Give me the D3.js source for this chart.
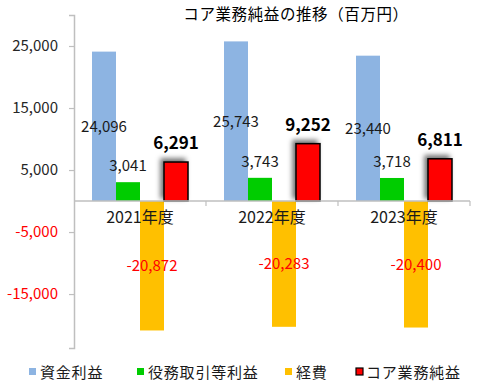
<!DOCTYPE html>
<html>
<head>
<meta charset="utf-8">
<script src="https://cdn.jsdelivr.net/npm/d3@7"></script>
<style>
  body { margin: 0; background: #fff; }
  svg { display: block; font-family: "Noto Sans CJK JP", "Noto Sans", sans-serif; }
</style>
</head>
<body>
<div id="chart"></div>
<script>
// ── Data ───────────────────────────────────────────────────────────────────────
const years = ["2021年度", "2022年度", "2023年度"];
const seriesNames = ["資金利益", "役務取引等利益", "経費", "コア業務純益"];
const seriesColors = ["#8DB4E2", "#00CC00", "#FFC000", "#FF0000"];
const shikinRieki = [24096, 25743, 23440];
const ekimuRieki = [3041, 3743, 3718];
const keihi = [-20872, -20283, -20400];
const coreJunEki = [6291, 9252, 6811];
const yTicks = [25000, 15000, 5000, -5000, -15000];

const seriesValues = [shikinRieki, ekimuRieki, keihi, coreJunEki];

// plain hyphen for negatives, like the original
const fmt = v => d3.format(",")(v).replace("\u2212", "-");

// ── Layout ─────────────────────────────────────────────────────────────────────
const W = 479, H = 385;
const plot = { left: 74, right: 470, top: 15, bottom: 348 };

const svg = d3.select("#chart").append("svg")
    .attr("width", W).attr("height", H)
    .attr("viewBox", `0 0 ${W} ${H}`);

const defs = svg.append("defs");
const shadow = defs.append("filter").attr("id", "shadow")
    .attr("x", "-60%").attr("y", "-60%").attr("width", "220%").attr("height", "220%");
shadow.append("feDropShadow")
    .attr("dx", -3).attr("dy", -3).attr("stdDeviation", 2.5)
    .attr("flood-color", "#000").attr("flood-opacity", 0.55);

const x = d3.scaleBand().domain(years).range([plot.left, plot.right]).padding(0);
const xInner = d3.scaleBand().domain(d3.range(seriesNames.length))
    .range([0, x.bandwidth()]).paddingOuter(0.75).paddingInner(0);
const y = d3.scaleLinear().domain([-23700, 30000]).range([plot.bottom, plot.top]);

// title
svg.append("text")
    .attr("x", 296).attr("y", 20)
    .attr("text-anchor", "middle")
    .attr("font-size", 15.5).attr("letter-spacing", 0.6)
    .attr("fill", "#000")
    .text("コア業務純益の推移（百万円）");

// y axis
const yAxis = svg.append("g")
    .attr("transform", `translate(${plot.left},0)`)
    .call(d3.axisLeft(y).tickValues(yTicks).tickSize(5).tickPadding(11)
        .tickFormat(fmt));
yAxis.select(".domain").attr("stroke", "#bfbfbf").attr("stroke-width", 1.5);
yAxis.selectAll(".tick line").attr("stroke", "#bfbfbf").attr("stroke-width", 1.2);
yAxis.selectAll(".tick text")
    .attr("font-size", 15)
    .attr("font-family", "\"Noto Sans CJK JP\", sans-serif")
    .attr("fill", d => d < 0 ? "#FF0000" : "#262626");

// bars
const groups = svg.append("g").selectAll("g")
    .data(years).join("g")
    .attr("transform", d => `translate(${x(d)},0)`);

seriesNames.forEach((name, s) => {
    const isCore = s === 3;
    groups.append("rect")
        .attr("x", xInner(s))
        .attr("width", xInner.bandwidth())
        .attr("y", (d, i) => y(Math.max(0, seriesValues[s][i])))
        .attr("height", (d, i) => Math.abs(y(seriesValues[s][i]) - y(0)))
        .attr("fill", seriesColors[s])
        .attr("stroke", isCore ? "#000" : "none")
        .attr("stroke-width", isCore ? 1.5 : 0)
        .attr("filter", isCore ? "url(#shadow)" : null);
});

// zero baseline with category dividers
const base = svg.append("g").attr("transform", `translate(0,${y(0)})`);
base.append("line")
    .attr("x1", plot.left).attr("x2", plot.right)
    .attr("stroke", "#bfbfbf").attr("stroke-width", 1.5);
base.selectAll(".div").data(years).join("line")
    .attr("x1", d => x(d) + x.bandwidth()).attr("x2", d => x(d) + x.bandwidth())
    .attr("y1", 0).attr("y2", 5)
    .attr("stroke", "#bfbfbf").attr("stroke-width", 1.2);

// category labels
svg.append("g").selectAll("text")
    .data(years).join("text")
    .attr("x", d => x(d) + x.bandwidth() / 2)
    .attr("y", y(0) + 22)
    .attr("text-anchor", "middle")
    .attr("font-size", 16)
    .attr("fill", "#1a1a1a")
    .text(d => d);

// data labels
seriesNames.forEach((name, s) => {
    groups.append("text")
        .attr("x", xInner(s) + xInner.bandwidth() / 2)
        .attr("y", (d, i) => {
            const v = seriesValues[s][i];
            if (s === 0 || s === 2) return (y(v) + y(0)) / 2 + 5.5;
            if (s === 1) return y(v) - 11;
            return y(v) - 13;
        })
        .attr("text-anchor", "middle")
        .attr("font-size", s === 3 ? 17 : 15)
        .attr("font-weight", s === 3 ? "bold" : "normal")
        .attr("fill", s === 2 ? "#FF0000" : (s === 3 ? "#000" : "#1a1a1a"))
        .text((d, i) => fmt(seriesValues[s][i]));
});

// legend
const legendX = [29, 137, 285, 356];
const legend = svg.append("g").selectAll("g")
    .data(seriesNames).join("g")
    .attr("transform", (d, i) => `translate(${legendX[i]},372)`);
legend.append("rect")
    .attr("x", 0).attr("y", -4)
    .attr("width", 7).attr("height", 7)
    .attr("fill", (d, i) => seriesColors[i])
    .attr("stroke", (d, i) => i === 3 ? "#000" : "none")
    .attr("stroke-width", 1.2);
legend.append("text")
    .attr("x", (d, i) => i === 3 ? 10 : 11).attr("y", 5.5)
    .attr("font-size", 15).attr("letter-spacing", 0.8)
    .attr("fill", "#1a1a1a")
    .text(d => d);
</script>
</body>
</html>
